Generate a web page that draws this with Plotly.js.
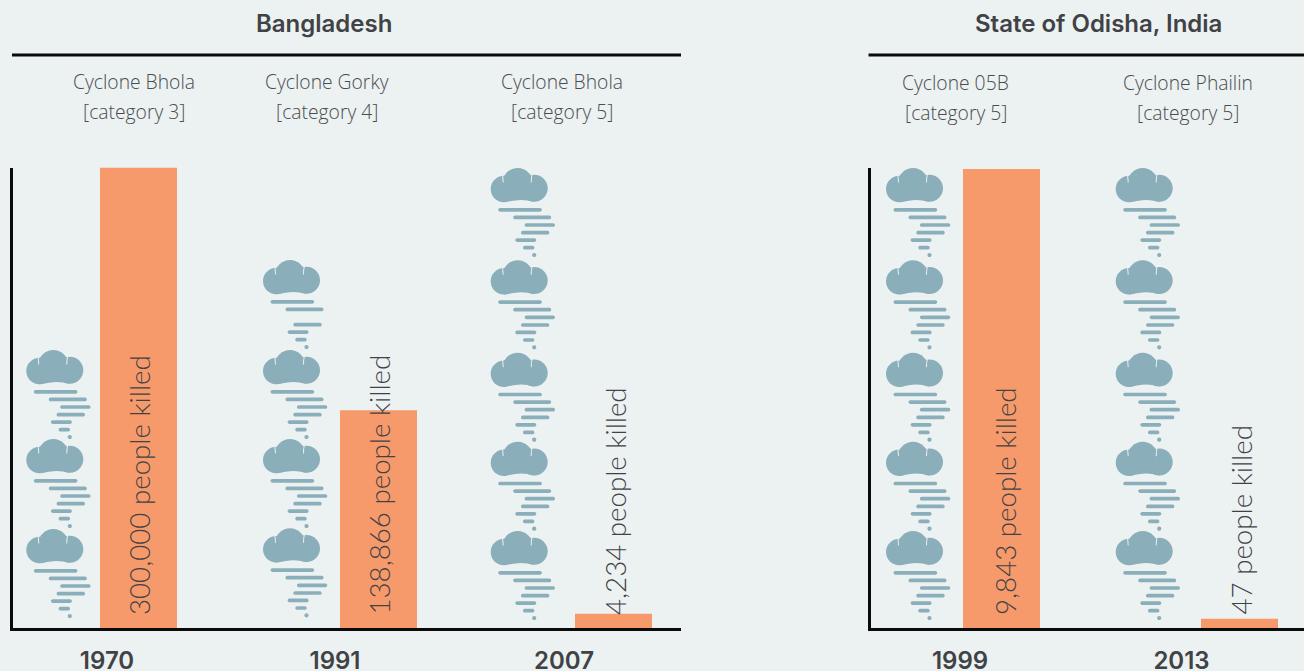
<!DOCTYPE html>
<html>
<head>
<meta charset="utf-8">
<script src="https://cdn.plot.ly/plotly-3.0.1.min.js"></script>
<style>html,body{margin:0;padding:0;background:#ecf1f2;overflow:hidden}</style>
</head>
<body>
<div id="chart" style="width:1304px;height:671px"></div>
<script>
// ---- data ----
const regions = ["Bangladesh", "State of Odisha, India"];
const yearsA = ["1970", "1991", "2007"];
const yearsB = ["1999", "2013"];
const cyclonesA = ["Cyclone Bhola", "Cyclone Gorky", "Cyclone Bhola"];
const cyclonesB = ["Cyclone 05B", "Cyclone Phailin"];
const categoriesA = [3, 4, 5];
const categoriesB = [5, 5];
const killedA = ["300,000", "138,866", "4,234"];
const killedB = ["9,843", "47"];
// bar lengths as drawn, percent of the tallest bar in each panel
const barLevelA = [100, 47.3, 3.1];
const barLevelB = [99.7, 2];

// ---- placement on each panel's axis (axis units = page pixels) ----
const W = 1304, H = 671;
const BG = "#ecf1f2", BAR = "#f79a6b", ICON = "#8aaeba", INK = "#404245", SOFT = "#4a4d4f";
const HEAD = "Inter, 'Open Sans', sans-serif", BODY = "Lato, 'Open Sans', sans-serif", NAME = "'Open Sans', sans-serif";
const placeA = {bar: [138.5, 378.5, 613.5], icon: [54.8, 291.5, 519.2], tick: [107, 335, 564],
                head: [133.5, 327, 562], label: [139, 378.5, 615]};
const placeB = {bar: [1001.5, 1239.5], icon: [914.5, 1144.2], tick: [960, 1181.5],
                head: [955.5, 1187.5], label: [1005, 1241]};
// page height of each cloud's top, lowest icon first
const topsTall = [531, 441.7, 352.7, 260.3, 168];
const topsA = [[529, 439, 350], [528.3, 439, 350, 260], topsTall];
const topsB = [topsTall, topsTall];
const rangeA = [13, 681], rangeB = [870.7, 1304];
const plotA = {top: 167.5, bottom: 628}, plotB = {top: 167.5, bottom: 628};

function circle(cx, cy, r) {
  const k = 0.5523 * r;
  const p = (x, y) => x + "," + (-y);
  return "M" + p(cx + r, cy) +
    " C" + p(cx + r, cy + k) + " " + p(cx + k, cy + r) + " " + p(cx, cy + r) +
    " C" + p(cx - k, cy + r) + " " + p(cx - r, cy + k) + " " + p(cx - r, cy) +
    " C" + p(cx - r, cy - k) + " " + p(cx - k, cy - r) + " " + p(cx, cy - r) +
    " C" + p(cx + k, cy - r) + " " + p(cx + r, cy - k) + " " + p(cx + r, cy) + " Z";
}
function pill(x0, x1, y, h) {
  const r = h / 2, k = 0.5523 * r, p = (a, b) => a + "," + (-b);
  return "M" + p(x0 + r, y - r) + " L" + p(x1 - r, y - r) +
    " C" + p(x1 - r + k, y - r) + " " + p(x1, y - k) + " " + p(x1, y) +
    " C" + p(x1, y + k) + " " + p(x1 - r + k, y + r) + " " + p(x1 - r, y + r) +
    " L" + p(x0 + r, y + r) +
    " C" + p(x0 + r - k, y + r) + " " + p(x0, y + k) + " " + p(x0, y) +
    " C" + p(x0, y - k) + " " + p(x0 + r - k, y - r) + " " + p(x0 + r, y - r) + " Z";
}
const stripeList = [
  pill(-21, 22.7, 41.8, 3.7), pill(-6, 32, 49.4, 3.7), pill(5.4, 35.8, 57, 3.7),
  pill(1.8, 30.2, 64.7, 3.7), pill(-3.9, 17.1, 72.1, 3.7), pill(3.8, 15.2, 79.7, 3.7),
  circle(15, 87, 2.1)
];
const body = "M-15.2,-34.3 Q-5,-32 2,-31.9 Q8,-32 15,-33.7 L15,-18 L-15,-18 Z";

function iconShapes(cx, level, xref, yref, skipStripe) {
  const base = {type: "path", xref, yref, xsizemode: "pixel", ysizemode: "pixel",
                xanchor: cx, yanchor: level, fillcolor: ICON, layer: "above", line: {width: 0}};
  const cut = {color: BG, width: 1};
  const stripes = stripeList.filter((s, i) => i !== skipStripe).join(" ");
  return [
    Object.assign({}, base, {path: circle(-15.2, 21, 13.3)}),
    Object.assign({}, base, {path: circle(15, 20.2, 13.5)}),
    Object.assign({}, base, {path: circle(-1.5, 15, 15)}),
    Object.assign({}, base, {path: body}),
    Object.assign({}, base, {path: "M-16.6,-7 L-16,-14.5", fillcolor: "rgba(0,0,0,0)", line: cut}),
    Object.assign({}, base, {path: "M13,-5.5 Q11.9,-10 12,-14.5", fillcolor: "rgba(0,0,0,0)", line: cut}),
    Object.assign({}, base, {path: stripes})
  ];
}
const levelOf = (top, plot) => (plot.bottom - top) / (plot.bottom - plot.top) * 100;

const shapes = [];
topsA.forEach((tops, g) => tops.forEach((t, i) => {
  // the top icon of 1991 has no third stripe in the reference
  const skip = (yearsA[g] === "1991" && i === tops.length - 1) ? 2 : -1;
  shapes.push(...iconShapes(placeA.icon[g], levelOf(t, plotA), "x", "y", skip));
}));
topsB.forEach((tops, g) => tops.forEach(t => {
  shapes.push(...iconShapes(placeB.icon[g], levelOf(t, plotB), "x2", "y2", -1));
}));
// header rules
shapes.push({type: "line", xref: "x domain", yref: "paper", x0: -0.0015, x1: 1, y0: 1 - 55 / H, y1: 1 - 55 / H, line: {color: "#0b0b0b", width: 3}});
shapes.push({type: "line", xref: "x2 domain", yref: "paper", x0: -0.005, x1: 1, y0: 1 - 55 / H, y1: 1 - 55 / H, line: {color: "#0b0b0b", width: 3}});

const ann = [];
function text(x, yPx, t, family, size, weight, color) {
  ann.push({xref: "paper", yref: "paper", x: x / W, y: 1 - yPx / H, text: t, showarrow: false,
            xanchor: "center", yanchor: "middle", font: {family, size, weight, color}});
}
text(324, 24, regions[0], HEAD, 24, 600, INK);
text(1098, 24, regions[1], HEAD, 24, 600, INK);
cyclonesA.forEach((c, i) => {
  text(placeA.head[i], 81, c, NAME, 19.3, 300, SOFT);
  text(placeA.head[i], 111, "[category " + categoriesA[i] + "]", NAME, 19.3, 300, SOFT);
});
cyclonesB.forEach((c, i) => {
  text(placeB.head[i], 83, c, NAME, 19.3, 300, SOFT);
  text(placeB.head[i], 113, "[category " + categoriesB[i] + "]", NAME, 19.3, 300, SOFT);
});
function killedLabel(k, x, xref, yref) {
  ann.push({xref, yref, x, y: 0, yshift: 11, showarrow: false, textangle: -90,
            text: k + " people killed",
            xanchor: "center", yanchor: "bottom", font: {family: BODY, size: 27.7, weight: 300, color: INK}});
}
killedA.forEach((k, i) => killedLabel(k, placeA.label[i], "x", "y"));
killedB.forEach((k, i) => killedLabel(k, placeB.label[i], "x2", "y2"));

const axisX = (range, domain, tickvals, ticktext, anchor) => ({
  range, domain, anchor, tickmode: "array", tickvals, ticktext, showgrid: false, zeroline: false,
  showline: true, linecolor: "#0b0b0b", linewidth: 3, ticks: "", ticklabelstandoff: 9,
  tickfont: {family: HEAD, size: 24, weight: 600, color: INK}
});
const axisY = (domain, anchor) => ({
  range: [0, 100], domain, anchor, showgrid: false, zeroline: false, showticklabels: false,
  ticks: "", showline: true, linecolor: "#0b0b0b", linewidth: 3
});

const traces = [
  {type: "bar", x: placeA.bar, y: barLevelA, width: 77, marker: {color: BAR, line: {width: 0}}, xaxis: "x", yaxis: "y", hoverinfo: "skip"},
  {type: "bar", x: placeB.bar, y: barLevelB, width: 77, marker: {color: BAR, line: {width: 0}}, xaxis: "x2", yaxis: "y2", hoverinfo: "skip"}
];
const layout = {
  width: W, height: H, margin: {l: 0, r: 0, t: 0, b: 0}, paper_bgcolor: BG, plot_bgcolor: BG, showlegend: false,
  xaxis: axisX(rangeA, [rangeA[0] / W, rangeA[1] / W], placeA.tick, yearsA, "y"),
  yaxis: axisY([1 - plotA.bottom / H, 1 - plotA.top / H], "x"),
  xaxis2: axisX(rangeB, [rangeB[0] / W, 1], placeB.tick, yearsB, "y2"),
  yaxis2: axisY([1 - plotB.bottom / H, 1 - plotB.top / H], "x2"),
  shapes, annotations: ann
};
Plotly.newPlot("chart", traces, layout, {staticPlot: true, displayModeBar: false});
</script>
</body>
</html>
